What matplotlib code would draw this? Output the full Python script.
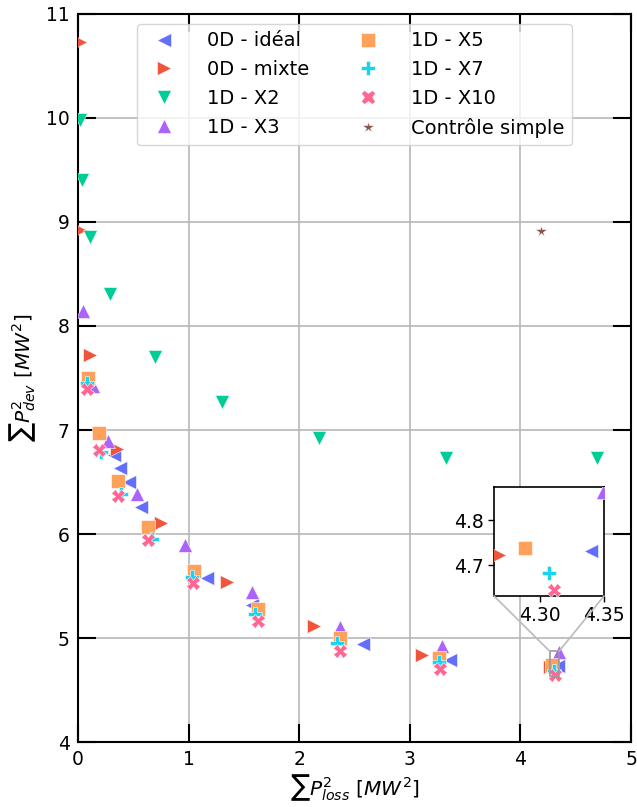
import matplotlib
matplotlib.use("Agg")
import matplotlib.pyplot as plt
from matplotlib.patches import ConnectionPatch

# data
labels = ['0D - idéal', '0D - mixte', '1D - X2', '1D - X3',
          '1D - X5', '1D - X7', '1D - X10', 'Contrôle simple']
markers = ['<', '>', 'v', '^', 's', 'P', 'X', '*']
colors = ['#636EFA', '#EF553B', '#00CC96', '#AB63FA',
          '#FFA15A', '#19D3F3', '#FF6692', '#8C564B']

ideal_x = [0.33, 0.38, 0.46, 0.57, 1.17, 1.57, 2.58, 3.36, 4.340]
ideal_y = [6.76, 6.63, 6.50, 6.26, 5.58, 5.32, 4.94, 4.79, 4.732]

mixte_x = [0.02, 0.02, 0.11, 0.35, 0.75, 1.35, 2.13, 3.11, 4.268]
mixte_y = [10.73, 8.92, 7.72, 6.82, 6.11, 5.54, 5.12, 4.84, 4.722]

x2_x = [0.02, 0.04, 0.11, 0.29, 0.70, 1.30, 2.18, 3.33, 4.69]
x2_y = [9.98, 9.40, 8.86, 8.31, 7.70, 7.27, 6.92, 6.73, 6.73]

x3_x = [0.05, 0.14, 0.27, 0.53, 0.97, 1.57, 2.37, 3.29, 4.349]
x3_y = [8.14, 7.42, 6.89, 6.38, 5.89, 5.44, 5.11, 4.92, 4.862]

x5_x = [0.09, 0.19, 0.36, 0.63, 1.05, 1.63, 2.37, 3.26, 4.288]
x5_y = [7.50, 6.97, 6.51, 6.07, 5.64, 5.28, 5.00, 4.81, 4.737]

x7_x = [0.08, 0.21, 0.39, 0.67, 1.03, 1.60, 2.34, 3.26, 4.307]
x7_y = [7.45, 6.79, 6.38, 5.95, 5.59, 5.23, 4.95, 4.77, 4.682]

x10_x = [0.08, 0.19, 0.36, 0.63, 1.04, 1.63, 2.37, 3.27, 4.311]
x10_y = [7.39, 6.81, 6.37, 5.94, 5.53, 5.16, 4.88, 4.70, 4.644]

simple_x = [4.19]
simple_y = [8.91]

series = [(ideal_x, ideal_y), (mixte_x, mixte_y), (x2_x, x2_y), (x3_x, x3_y),
          (x5_x, x5_y), (x7_x, x7_y), (x10_x, x10_y), (simple_x, simple_y)]

fig = plt.figure(figsize=(6.37, 8.07), dpi=100)
ax = fig.add_axes([0.1224, 0.0805, 0.8682, 0.9022])


def draw(a):
    for (xs, ys), lab, m, c in zip(series, labels, markers, colors):
        ms = 8.5 if m == '*' else 9.5
        a.plot(xs, ys, linestyle='none', marker=m, color=c, markersize=ms,
               markeredgecolor='white', markeredgewidth=0.4, label=lab,
               zorder=3)


draw(ax)
ax.set_xlim(0, 5)
ax.set_ylim(4, 11)
ax.grid(True, color='#b8b8b8', linewidth=1.2, zorder=0)
ax.set_axisbelow(True)
ax.tick_params(direction='in', top=True, right=True, length=13, width=1.5,
               labelsize=13.5, pad=6)
for s in ax.spines.values():
    s.set_linewidth(1.5)
ax.set_xlabel(r'$\sum P_{loss}^2\ [MW^2]$', fontsize=14.5, labelpad=2)
ax.set_ylabel(r'$\sum P_{dev}^2\ [MW^2]$', fontsize=14.5, labelpad=6)
ax.legend(ncol=2, loc='upper center', fontsize=14, handletextpad=1.2,
          columnspacing=2.0, borderaxespad=0.5, markerscale=1.1)

# zoomed inset on the 4.3 cluster
x0, x1, y0, y1 = 4.264, 4.350, 4.631, 4.874
axins = fig.add_axes([0.7755, 0.2615, 0.1727, 0.1351])
draw(axins)
axins.set_xlim(x0, x1)
axins.set_ylim(y0, y1)
axins.set_xticks([4.30, 4.35])
axins.set_xticklabels(['4.30', '4.35'])
axins.set_yticks([4.7, 4.8])
axins.tick_params(labelsize=13.5, length=4, width=1)
for s in axins.spines.values():
    s.set_linewidth(1.2)

ax.add_patch(plt.Rectangle((x0, y0), x1 - x0, y1 - y0, fill=False,
                           edgecolor='#999999', linewidth=1.2, zorder=4))
for fx, dx in [(0, x0), (1, x1)]:
    con = ConnectionPatch(xyA=(fx, 0), coordsA=axins.transAxes,
                          xyB=(dx, y1), coordsB=ax.transData,
                          color='#bbbbbb', linewidth=1.2)
    fig.add_artist(con)

fig.savefig('out.png', dpi=100)
plt.close(fig)
